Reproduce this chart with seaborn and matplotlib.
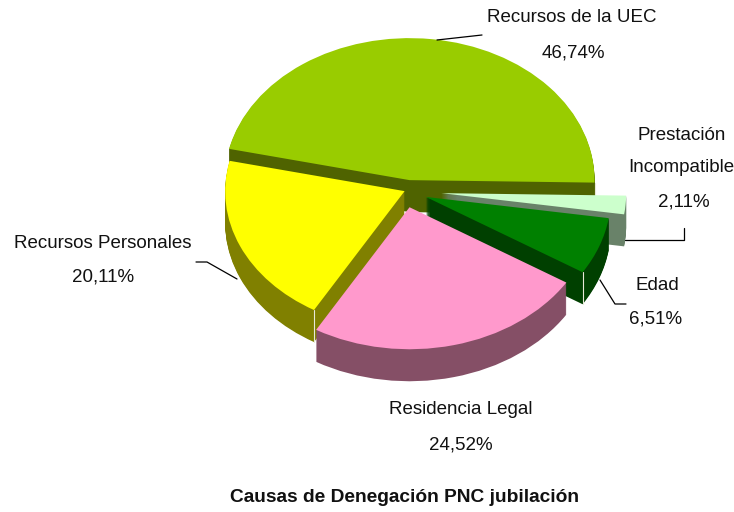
import matplotlib
matplotlib.use('Agg')
import math
import matplotlib.pyplot as plt
import seaborn as sns

causes = ['Recursos de la UEC', 'Recursos Personales', 'Residencia Legal', 'Edad', 'Prestación\nIncompatible']
shares = [46.74, 20.11, 24.52, 6.51, 2.11]
hex_colors = ['#99CC00', '#FFFF00', '#FF99CC', '#008000', '#CCFFCC']
title = 'Causas de Denegación PNC jubilación'

explode_frac = [0.07, 0.02, 0.125, 0.12, 0.18]
radius_scale = [1.0, 0.97, 1.0, 1.0, 1.0]
nudge_px = [(0, 0), (0, 0), (-4, 0), (-3, 1), (0, 1)]
stack_order = [0, 4, 3, 1, 2]   # back to front

W, H = 734, 512
RX, RY = 185, 142   # ellipse radii in pixels
CX, CY = 408, 190
DEPTH = 32
START = -1.0

sns.set_theme(style='white')
plt.rcParams['font.family'] = ['Liberation Sans', 'DejaVu Sans']

palette = sns.color_palette(hex_colors)
dark = [tuple(c * 0.5 for c in col) for col in palette]
dark[2] = (0.52, 0.31, 0.40)
dark[4] = (0.41, 0.51, 0.41)
dark[0] = (0.31, 0.39, 0.0)

fig = plt.figure(figsize=(W / 100, H / 100), dpi=100)
ax = fig.add_axes([0, 0, 1, 1])
k = RX / RY

def px(x, y):
    return x, (H - y) * k

explode = [e * RX for e in explode_frac]

# side walls, stacked one pixel at a time under the top faces
for d in range(DEPTH, -1, -1):
    cols = palette if d == 0 else dark
    wedges, _ = ax.pie(shares, colors=cols, explode=explode, startangle=START,
                       radius=RX, center=px(CX, CY + d),
                       wedgeprops={'linewidth': 0})
    for i, w in enumerate(wedges):
        cx, cy = w.center
        w.set_center((cx + nudge_px[i][0], cy - nudge_px[i][1] * k))
        w.set_radius(RX * radius_scale[i])
        w.set_zorder(10 * (stack_order.index(i) + 1) + (DEPTH - d) / DEPTH)

# pale highlight on the front corners of the cut faces
highlight_depth = {0: 14, 1: DEPTH, 3: DEPTH}
theta = START
for i, v in enumerate(shares):
    t2 = theta + v * 3.6
    if i in highlight_depth:
        tm = math.radians((theta + t2) / 2)
        cx, cy = px(CX + nudge_px[i][0], CY + nudge_px[i][1])
        edge = math.radians(t2 if i == 1 else theta)
        r = RX * radius_scale[i]
        xe = cx + explode[i] * math.cos(tm) + r * math.cos(edge)
        ye = cy + explode[i] * math.sin(tm) + r * math.sin(edge)
        ax.plot([xe, xe], [ye, ye - highlight_depth[i] * k], color='#E8E8D8', lw=0.8,
                zorder=10 * (stack_order.index(i) + 1) + 2)
    theta = t2

ax.set_aspect('auto')
ax.set_xlim(0, W)
ax.set_ylim(0, H * k)
ax.axis('off')

# leader lines
leaders = [
    [(437, 40), (482, 35)],
    [(625, 240), (684, 240), (684, 228)],
    [(600, 280), (615, 304), (626, 304)],
    [(237, 279), (207, 262), (196, 262)],
]
for pts in leaders:
    xy = [px(*p) for p in pts]
    ax.plot([p[0] for p in xy], [p[1] for p in xy], color='black', lw=0.9, zorder=100)

label_pos = [(572, 18), (103, 244), (461, 410), (657, 285), (681.5, 135)]
pct_pos = [(573, 53), (103, 277), (461, 445), (656, 319), (684, 202)]
line_gap = 33
for i, name in enumerate(causes):
    for j, part in enumerate(name.split('\n')):
        x, y = px(label_pos[i][0], label_pos[i][1] + j * line_gap)
        ax.text(x, y, part, ha='center', va='center', fontsize=13.5, color='#111111', zorder=101)
    x, y = px(*pct_pos[i])
    ax.text(x, y, f'{shares[i]:.2f}'.replace('.', ',') + '%', ha='center', va='center',
            fontsize=13.5, color='#111111', zorder=101)

x, y = px(405, 498)
ax.text(x, y, title, ha='center', va='center', fontsize=13.8, fontweight='bold', color='#111111', zorder=101)

fig.savefig('out.png', dpi=100, facecolor='white')
